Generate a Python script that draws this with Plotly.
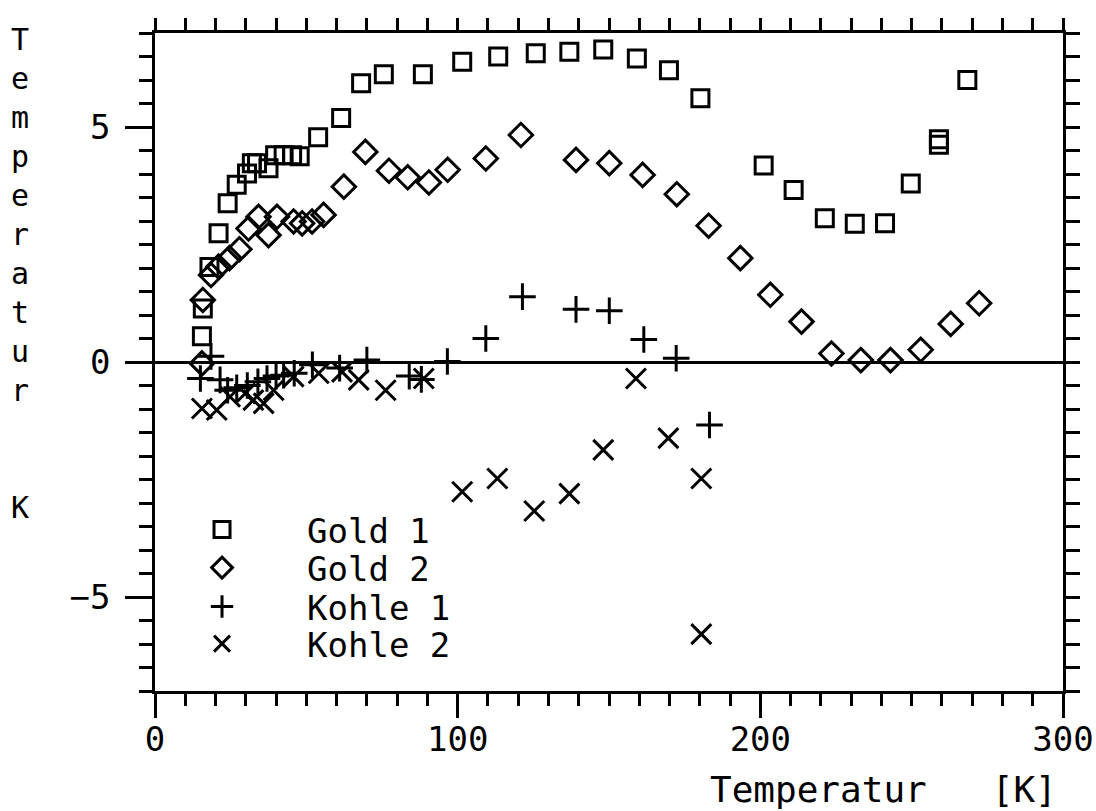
import plotly.graph_objects as go

# Temperaturdifferenz-Messreihen (T in K, Differenz in K)
gold1_T = [15.5, 15.8, 18.0, 21.0, 24.0, 27.0, 30.4, 32.0, 33.7, 37.5, 39.7, 42.5,
           45.3, 47.8, 53.9, 61.5, 68.1, 75.6, 88.5, 101.5, 113.4, 125.8, 136.9,
           148.1, 159.2, 169.8, 180.2, 201.1, 211.0, 221.3, 231.2, 241.2, 249.7,
           259.0, 259.0, 268.4]
gold1_dT = [0.55, 1.14, 2.02, 2.74, 3.38, 3.77, 4.01, 4.23, 4.23, 4.12, 4.40, 4.40,
            4.40, 4.38, 4.78, 5.19, 5.93, 6.12, 6.12, 6.39, 6.50, 6.57, 6.60,
            6.65, 6.46, 6.21, 5.61, 4.18, 3.66, 3.06, 2.94, 2.95, 3.80,
            4.74, 4.62, 6.00]

gold2_T = [15.5, 15.8, 18.5, 21.0, 24.6, 27.9, 30.9, 34.2, 37.5, 40.3, 45.8, 48.6,
           51.9, 55.7, 62.4, 69.5, 77.3, 83.5, 90.5, 96.7, 109.3, 120.9, 139.1,
           150.1, 161.1, 172.4, 182.9, 193.4, 203.3, 213.6, 223.5, 233.2, 243.0,
           253.0, 262.9, 272.3]
gold2_dT = [-0.03, 1.32, 1.85, 2.03, 2.21, 2.40, 2.84, 3.09, 2.70, 3.09, 2.99, 2.95,
            2.99, 3.13, 3.73, 4.47, 4.07, 3.93, 3.82, 4.09, 4.33, 4.83, 4.30,
            4.23, 3.98, 3.57, 2.90, 2.21, 1.43, 0.86, 0.18, 0.04, 0.04,
            0.26, 0.81, 1.25]

kohle1_T = [15.0, 18.5, 21.5, 24.0, 27.0, 30.5, 34.0, 37.0, 40.0, 42.5, 46.0, 52.0,
            61.0, 70.0, 84.0, 88.0, 96.6, 109.3, 121.4, 139.1, 150.1, 161.5, 172.2,
            183.2]
kohle1_dT = [-0.35, 0.12, -0.38, -0.60, -0.55, -0.50, -0.42, -0.35, -0.30, -0.28,
             -0.24, -0.06, -0.13, 0.04, -0.30, -0.37, 0.01, 0.50, 1.39, 1.12, 1.09,
             0.48, 0.08, -1.34]

kohle2_T = [15.5, 20.4, 24.8, 29.8, 32.5, 35.9, 39.2, 45.8, 54.1, 61.8, 67.3, 76.2,
            88.8, 101.5, 113.1, 125.3, 136.9, 148.1, 158.9, 169.6, 180.5, 180.5]
kohle2_dT = [-0.99, -1.02, -0.74, -0.67, -0.81, -0.88, -0.60, -0.31, -0.24, -0.21,
             -0.38, -0.60, -0.35, -2.76, -2.48, -3.17, -2.80, -1.87, -0.35, -1.62,
             -2.48, -5.79]

FONT = "DejaVu Sans Mono"
INK = "black"

# name, x, y, symbol, size, legend, x-axis, y-axis
# (the last series sits on the mirrored top/right axes, which share the same ranges)
series = [
    ("Gold 1", gold1_T, gold1_dT, "square-open", 17, "legend", "x", "y"),
    ("Gold 2", gold2_T, gold2_dT, "diamond-open", 18, "legend2", "x", "y"),
    ("Kohle 1", kohle1_T, kohle1_dT, "cross-thin-open", 19, "legend3", "x", "y"),
    ("Kohle 2", kohle2_T, kohle2_dT, "x-thin-open", 20, "legend4", "x2", "y2"),
]

fig = go.Figure()
for name, xs, ys, sym, size, lg, xa, ya in series:
    fig.add_trace(go.Scatter(
        x=xs, y=ys, name=name, mode="markers", legend=lg, xaxis=xa, yaxis=ya,
        marker=dict(symbol=sym, size=size, color=INK,
                    line=dict(color=INK, width=3)),
    ))

# one legend per row so each entry can be placed individually
row_y = [0.2447, 0.1869, 0.1277, 0.0714]
legend_common = dict(
    x=-0.0198, xanchor="left", yanchor="middle",
    font=dict(family=FONT, size=34, color=INK),
    bgcolor="rgba(0,0,0,0)", borderwidth=0, itemwidth=160,
)
legends = {}
for key, yy in zip(["legend", "legend2", "legend3", "legend4"], row_y):
    legends[key] = dict(legend_common, y=yy)

axis_line = dict(showline=True, linecolor=INK, linewidth=2.5, showgrid=False,
                 tickcolor=INK, tickwidth=2.5)

fig.update_layout(
    width=1096, height=811,
    margin=dict(l=155, r=33, t=33, b=120, autoexpand=False),
    paper_bgcolor="white", plot_bgcolor="white",
    showlegend=True,
    font=dict(family=FONT, color=INK),
    xaxis=dict(
        range=[0, 300], dtick=100, tick0=0, ticks="outside", ticklen=24,
        minor=dict(dtick=10, ticks="outside", ticklen=12, tickcolor=INK, tickwidth=2.5),
        tickfont=dict(family=FONT, size=34, color=INK),
        ticklabeloverflow="allow",
        zeroline=False, ticklabelstandoff=-8, **axis_line,
    ),
    xaxis2=dict(
        range=[0, 300], overlaying="x", side="top", anchor="y2", dtick=10, tick0=0,
        ticks="outside", ticklen=12, showticklabels=False, zeroline=False,
        **axis_line,
    ),
    yaxis=dict(
        range=[-7, 7], dtick=5, tick0=0, ticks="outside", ticklen=27,
        minor=dict(dtick=0.5, ticks="outside", ticklen=13, tickcolor=INK, tickwidth=2.5),
        tickfont=dict(family=FONT, size=34, color=INK),
        zeroline=True, zerolinecolor=INK, zerolinewidth=2.5,
        ticklabelstandoff=8, **axis_line,
    ),
    yaxis2=dict(
        range=[-7, 7], overlaying="y", side="right", anchor="x2", dtick=0.5, tick0=0,
        ticks="outside", ticklen=14, showticklabels=False, zeroline=False,
        **axis_line,
    ),
    annotations=[
        dict(text="Temperatur\u00a0\u00a0\u00a0[K]", xref="paper", yref="paper",
             x=0.996, y=-0.149, xanchor="right", yanchor="middle", showarrow=False,
             font=dict(family=FONT, size=36, color=INK)),
        dict(text="<br>".join(list("Temperatur") + ["\u00a0", "\u00a0", "K"]),
             xref="paper", yref="paper", x=-0.1487, y=1.02, xanchor="center",
             yanchor="top", showarrow=False, align="center",
             font=dict(family=FONT, size=30, color=INK)),
    ],
    **legends,
)

fig.write_html("out.html")
